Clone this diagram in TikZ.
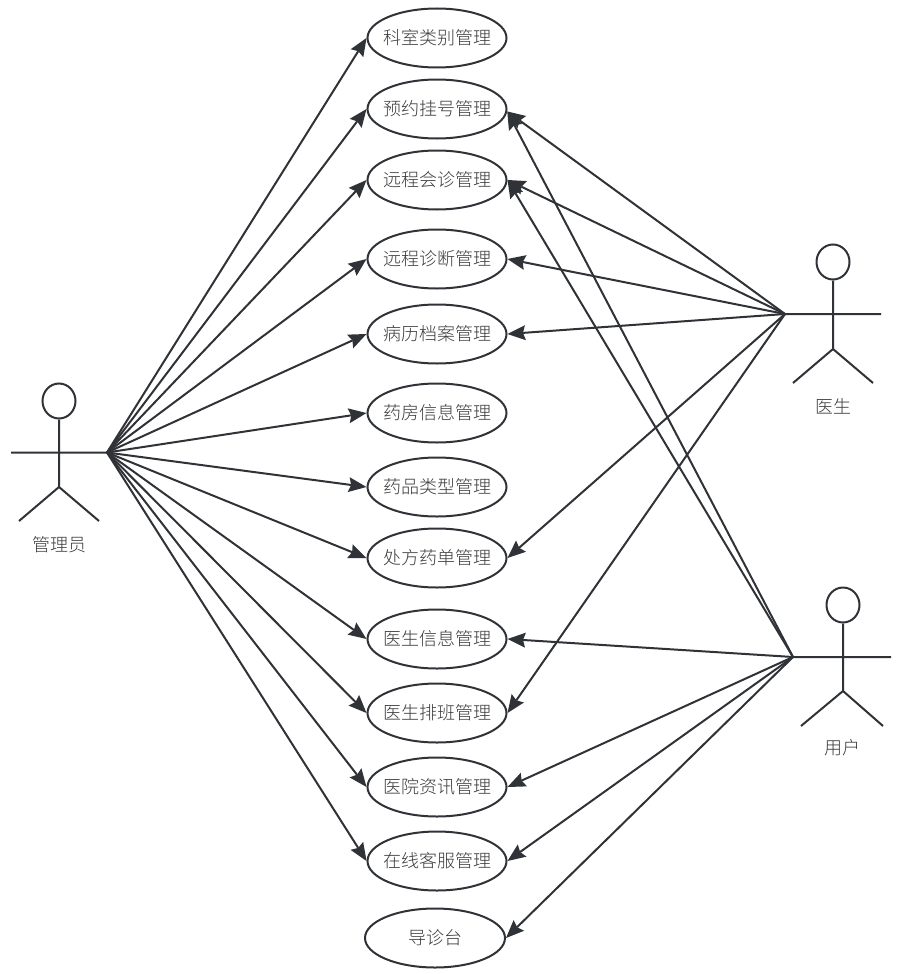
\documentclass[tikz,border=0pt]{standalone}
\usepackage{fontspec}
\usetikzlibrary{arrows.meta,shapes.geometric}
\newfontfamily\cjk[UprightFont=* Light]{Noto Sans CJK SC}
\definecolor{ink}{HTML}{2F3236}
\definecolor{txt}{HTML}{3A3A3A}
\newcommand{\uc}[1]{\makebox[0pt]{\raisebox{-1.5pt}{#1}}}
\tikzset{
 x=1pt,y=-1pt,
 usecase/.style={ellipse,draw=ink,line width=2pt,minimum width=139pt,minimum height=59pt,inner sep=0pt,font=\cjk\fontsize{18pt}{20pt}\selectfont,text=txt},
 conn/.style={draw=ink,line width=2pt,-{Stealth[length=18pt,width=15pt,inset=2.5pt,line width=0pt]},shorten >=0pt},
 limb/.style={draw=ink,line width=2pt},
 actorname/.style={font=\cjk\fontsize{18pt}{20pt}\selectfont,text=txt,inner sep=0pt},
 head/.style={ellipse,draw=ink,line width=2pt,minimum width=33pt,minimum height=35pt,inner sep=0pt},
}
\begin{document}
\begin{tikzpicture}
\useasboundingbox (0,0) rectangle (921,974);
\node[usecase] (u1) at (437,38) {\uc{科室类别管理}};
\node[usecase] (u2) at (437,109) {\uc{预约挂号管理}};
\node[usecase] (u3) at (437,180) {\uc{远程会诊管理}};
\node[usecase] (u4) at (437,259) {\uc{远程诊断管理}};
\node[usecase] (u5) at (437,334) {\uc{病历档案管理}};
\node[usecase] (u6) at (437,413) {\uc{药房信息管理}};
\node[usecase] (u7) at (437,487) {\uc{药品类型管理}};
\node[usecase] (u8) at (437,558) {\uc{处方药单管理}};
\node[usecase] (u9) at (437,639) {\uc{医生信息管理}};
\node[usecase] (u10) at (437,713) {\uc{医生排班管理}};
\node[usecase] (u11) at (437,787) {\uc{医院资讯管理}};
\node[usecase] (u12) at (437,861) {\uc{在线客服管理}};
\node[usecase,minimum width=140pt] (u13) at (435,938) {\uc{导诊台}};
% admin
\node[head] (ah) at (59,401) {};
\coordinate (ahip) at (59,487);
\coordinate (al) at (11,452.5);
\coordinate (ar) at (107,452.5);
\coordinate (all) at (19,521);
\coordinate (alr) at (99,521);
\draw[limb] (ah.south) -- (ahip) (al) -- (ar) (all) -- (ahip) -- (alr);
\node[actorname] (an) at (59,544.5) {管理员};
% doctor
\node[head] (dh) at (833,262) {};
\coordinate (dhip) at (833,349);
\coordinate (dl) at (785,314);
\coordinate (dr) at (881,314);
\coordinate (dll) at (793,383);
\coordinate (dlr) at (873,383);
\draw[limb] (dh.south) -- (dhip) (dl) -- (dr) (dll) -- (dhip) -- (dlr);
\node[actorname] (dn) at (833,406) {医生};
% user
\node[head] (uh) at (843,605) {};
\coordinate (uhip) at (843,691);
\coordinate (ul) at (793,657);
\coordinate (ur) at (891,657);
\coordinate (ull) at (801,726);
\coordinate (ulr) at (883,726);
\draw[limb] (uh.south) -- (uhip) (ul) -- (ur) (ull) -- (uhip) -- (ulr);
\node[actorname] (un) at (842,748) {用户};
% connectors
\foreach \i in {1,...,12} \draw[conn] (ar) -- (u\i.west);
\draw[conn] (dl) -- (u2.-2);
\draw[conn] (dl) -- (u3.east);
\draw[conn] (dl) -- (u4.east);
\draw[conn] (dl) -- (u5.east);
\draw[conn] (dl) -- (u8.east);
\draw[conn] (dl) -- (u10.east);
\draw[conn] (ul) -- (u2.-2);
\draw[conn] (ul) -- (u3.east);
\draw[conn] (ul) -- (u9.east);
\draw[conn] (ul) -- (u11.east);
\draw[conn] (ul) -- (u12.east);
\draw[conn] (ul) -- (u13.east);
\end{tikzpicture}
\end{document}
